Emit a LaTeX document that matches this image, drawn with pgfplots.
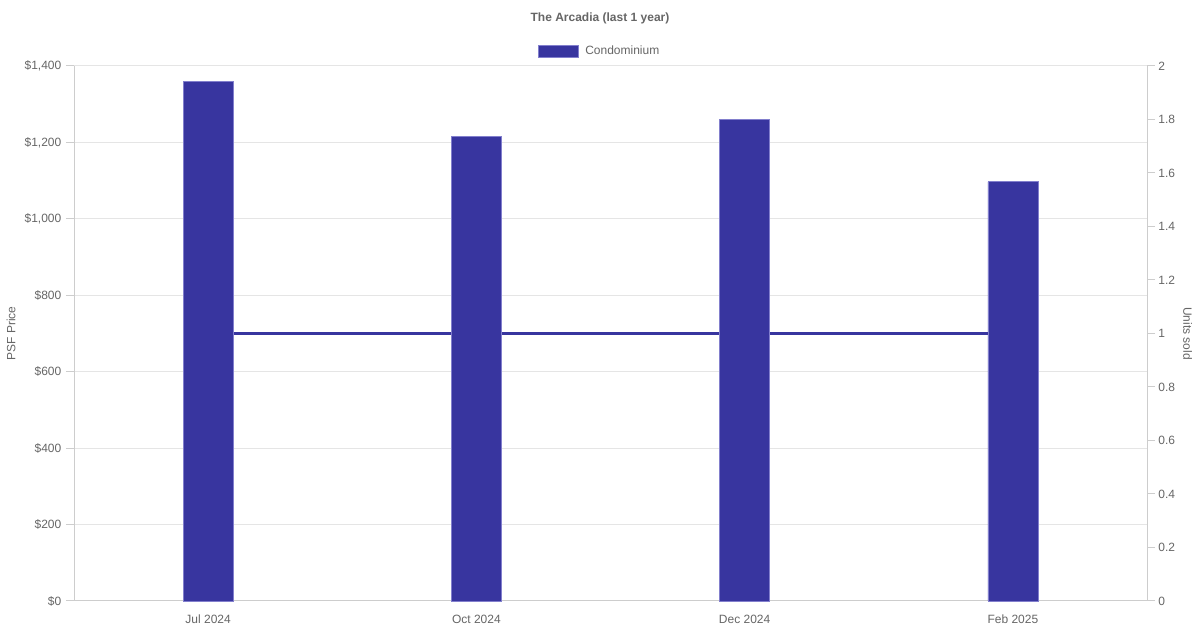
\documentclass[border=0pt]{standalone}
\usepackage{fontspec}
\setmainfont{Liberation Sans}
\usepackage{pgfplots}
\pgfplotsset{compat=1.18}

\definecolor{barfill}{RGB}{56,53,159}
\definecolor{baredge}{RGB}{130,127,205}
\definecolor{txt}{RGB}{102,102,102}
\definecolor{gridc}{RGB}{229,229,229}
\definecolor{axc}{RGB}{205,205,205}

\pgfplotsset{
  common/.style={
    scale only axis,
    width=804.75pt, height=401.25pt,
    at={(55.5pt,21.75pt)}, anchor=south west,
    xmin=-0.5, xmax=3.5,
    xtick=\empty,
    tick align=outside,
    major tick length=6pt,
    ytick style={axc, line width=0.75pt},
    axis line style={axc, line width=0.75pt},
    tick label style={font=\fontsize{9}{11}\selectfont, txt},
    label style={font=\fontsize{9}{11}\selectfont, txt},
    clip=false,
  },
}

\begin{document}
\begin{tikzpicture}
\path[use as bounding box, fill=white] (0,0) rectangle (900pt,472.5pt);

% right axis: units sold (drawn first so the bars sit on top)
\begin{axis}[common,
  axis y line*=right, axis x line=none,
  ymin=0, ymax=2,
  ytick={0,0.2,0.4,0.6,0.8,1,1.2,1.4,1.6,1.8,2},
  yticklabels={0,0.2,0.4,0.6,0.8,1,1.2,1.4,1.6,1.8,2},
  yticklabel style={xshift=-1pt},
  ylabel={Units sold},
  ylabel style={at={(axis description cs:1.038,0.5)}, anchor=center, rotate=180},
]
\addplot[barfill, line width=2.25pt, mark=none] coordinates {(0,1) (1,1) (2,1) (3,1)};
\end{axis}

% left axis: PSF price
\begin{axis}[common,
  axis y line*=left, axis x line*=bottom,
  ymin=0, ymax=1400,
  ytick={0,200,400,600,800,1000,1200,1400},
  yticklabels={\$0,\$200,\$400,\$600,\$800,{\$1,000},{\$1,200},{\$1,400}},
  ymajorgrids, grid style={gridc, line width=0.75pt},
  xtick={0,1,2,3}, xticklabels={Jul 2024,Oct 2024,Dec 2024,Feb 2025},
  xtick style={draw=none},
  xticklabel style={yshift=-1pt},
  ylabel={PSF Price},
  ylabel style={at={(axis description cs:-0.0587,0.5)}, anchor=center},
  legend style={at={(0.5,1)}, anchor=south, xshift=-7.9pt, yshift=2.75pt,
    draw=none, fill=none, font=\fontsize{9}{11}\selectfont, text=txt,
    legend cell align=left, column sep=3pt},
  legend image code/.code={\draw[fill=barfill, draw=baredge, line width=0.5pt] (-3pt,-4.5pt) rectangle (27pt,4.5pt);},
]
\addplot[ybar, bar width=37.5pt, fill=barfill, draw=baredge, line width=0.5pt]
  coordinates {(0,1360) (1,1216) (2,1260) (3,1097)};
\addlegendentry{Condominium}
\end{axis}

\node[font=\fontsize{9}{11}\selectfont\bfseries, text=txt] at (450pt,459pt) {The Arcadia (last 1 year)};
\end{tikzpicture}
\end{document}
